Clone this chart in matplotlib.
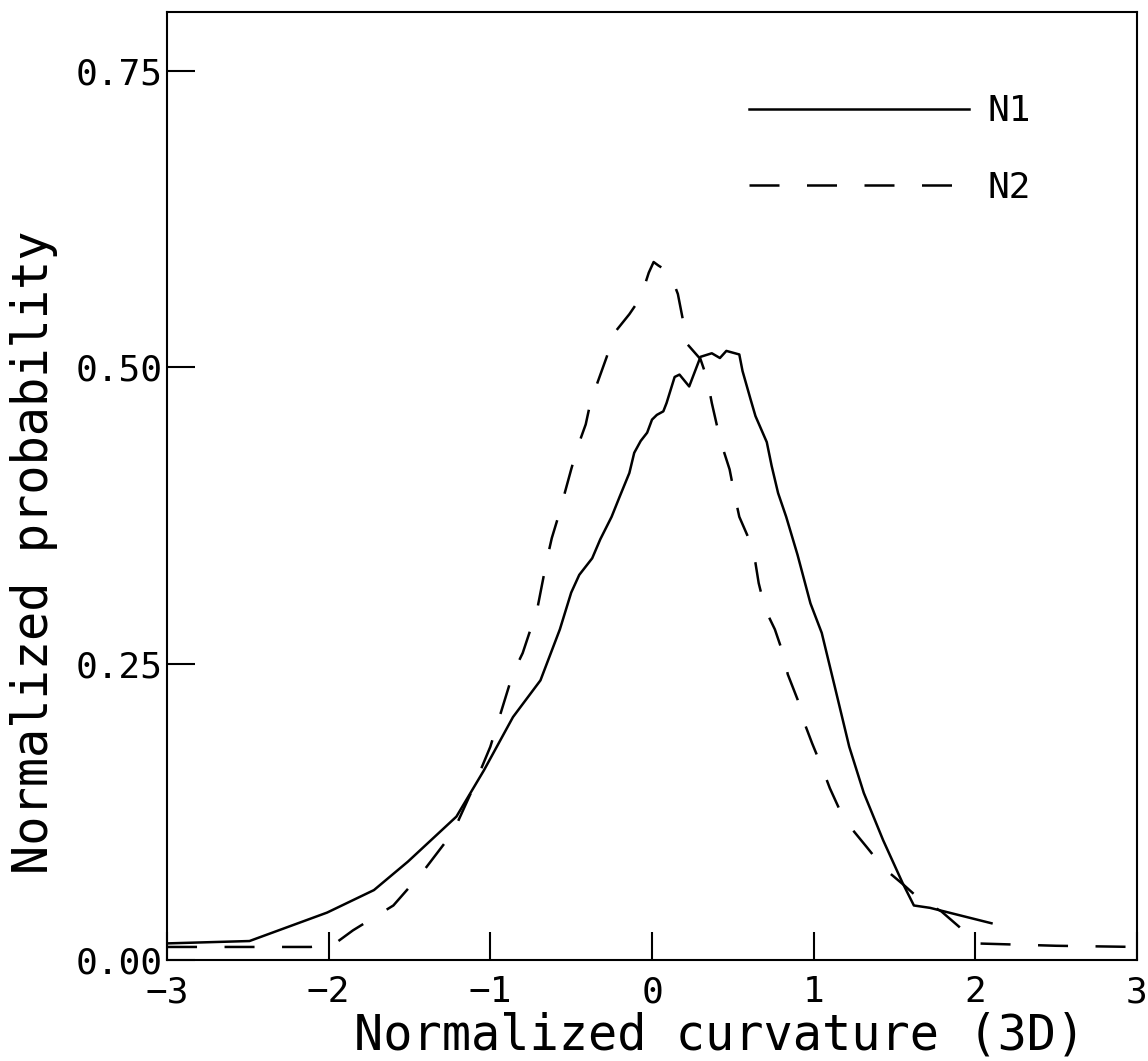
import matplotlib
matplotlib.use("Agg")
import matplotlib.pyplot as plt

# Curve N1 (solid)
n1_x = [-3.00, -2.49, -2.01, -1.72, -1.51, -1.21, -1.04, -0.86, -0.69, -0.57,
        -0.50, -0.45, -0.37, -0.32, -0.25, -0.20, -0.14, -0.11, -0.07, -0.03,
        0.00, 0.03, 0.07, 0.09, 0.14, 0.17, 0.23, 0.30, 0.37, 0.42,
        0.46, 0.54, 0.56, 0.61, 0.64, 0.71, 0.74, 0.78, 0.83, 0.90,
        0.98, 1.05, 1.13, 1.22, 1.31, 1.43, 1.55, 1.62, 1.72, 2.10]
n1_y = [0.014, 0.016, 0.040, 0.059, 0.083, 0.121, 0.160, 0.205, 0.236, 0.279,
        0.310, 0.325, 0.339, 0.355, 0.374, 0.391, 0.411, 0.428, 0.438, 0.445,
        0.456, 0.460, 0.463, 0.470, 0.492, 0.494, 0.484, 0.509, 0.512, 0.508,
        0.514, 0.511, 0.497, 0.473, 0.459, 0.437, 0.417, 0.394, 0.374, 0.342,
        0.301, 0.276, 0.231, 0.180, 0.141, 0.101, 0.065, 0.046, 0.044, 0.031]

# Curve N2 (dashed)
n2_x = [-3.00, -2.11, -1.96, -1.85, -1.60, -1.42, -1.23, -1.11, -1.00, -0.86,
        -0.80, -0.71, -0.65, -0.62, -0.58, -0.54, -0.50, -0.46, -0.41, -0.38,
        -0.33, -0.28, -0.24, -0.14, -0.07, -0.02, 0.01, 0.04, 0.11, 0.16,
        0.19, 0.21, 0.30, 0.34, 0.37, 0.40, 0.44, 0.48, 0.51, 0.54,
        0.61, 0.64, 0.66, 0.70, 0.76, 0.81, 0.84, 0.90, 0.94, 0.99,
        1.05, 1.10, 1.16, 1.24, 1.33, 1.43, 1.56, 1.65, 1.79, 1.90,
        2.00, 2.50, 3.00]
n2_y = [0.011, 0.011, 0.014, 0.025, 0.046, 0.074, 0.108, 0.144, 0.180, 0.242,
        0.259, 0.296, 0.338, 0.356, 0.374, 0.394, 0.414, 0.433, 0.452, 0.471,
        0.490, 0.509, 0.528, 0.545, 0.559, 0.580, 0.589, 0.586, 0.580, 0.562,
        0.541, 0.521, 0.507, 0.491, 0.470, 0.452, 0.431, 0.414, 0.393, 0.374,
        0.352, 0.335, 0.318, 0.296, 0.279, 0.259, 0.241, 0.220, 0.201, 0.183,
        0.163, 0.145, 0.127, 0.110, 0.095, 0.078, 0.063, 0.052, 0.041, 0.028,
        0.014, 0.012, 0.011]

x_ticks = [-3, -2, -1, 0, 1, 2, 3]
y_ticks = [0.00, 0.25, 0.50, 0.75]

plt.rcParams["font.family"] = ["DejaVu Sans Mono"]

fig = plt.figure(figsize=(11.48, 10.61), dpi=100)
ax = fig.add_axes([0.1455, 0.0952, 0.8449, 0.8935])

ax.plot(n1_x, n1_y, color="black", linewidth=1.8, label="N1")
ax.plot(n2_x, n2_y, color="black", linewidth=1.8, dashes=(12, 11), label="N2")

ax.set_xlim(-3, 3)
ax.set_ylim(0, 0.80)
ax.set_xticks(x_ticks)
ax.set_yticks(y_ticks)
ax.set_yticklabels([f"{v:.2f}" for v in y_ticks])

ax.tick_params(direction="in", length=20, width=1.5, labelsize=26)
ax.tick_params(axis="x", pad=11)
ax.tick_params(axis="y", pad=3)
for s in ax.spines.values():
    s.set_linewidth(1.5)

ax.set_xlabel("Normalized curvature (3D)", fontsize=35)
ax.xaxis.set_label_coords(0.57, -0.054)
ax.set_ylabel("Normalized probability", fontsize=35)
ax.yaxis.set_label_coords(-0.112, 0.43)

ax.legend(loc="upper left", bbox_to_anchor=(0.60, 0.913), frameon=False,
          fontsize=26, handlelength=6.1, handletextpad=0.5,
          labelspacing=1.17, borderpad=0, borderaxespad=0)

plt.savefig("out.png", dpi=100)
